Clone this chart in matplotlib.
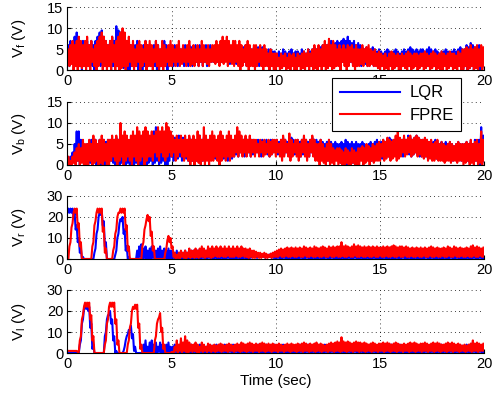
import numpy as np
import matplotlib
matplotlib.use('Agg')
import matplotlib.pyplot as plt

# time grid, 0.1 s steps; each step holds a low and a high reading of the noisy trace
t = np.linspace(0, 20, 201)

# V_f, FPRE (red)
vf_fpre_hi = [5, 6, 7, 6, 7, 8, 7, 6, 7, 8,
              6, 7, 5, 6, 7, 8, 9, 8, 7, 6,
              7, 8, 6, 7, 8, 9, 10, 9, 7, 8,
              6, 7, 5, 6, 7, 6, 5, 7, 6, 7,
              6, 5, 7, 6, 5, 7, 6, 5, 6, 7,
              6, 5, 6, 7, 5, 6, 5, 6, 7, 5,
              6, 5, 6, 5, 7, 6, 5, 6, 5, 6,
              6, 7, 6, 7, 8, 7, 8, 7, 6, 7,
              7, 6, 7, 6, 5, 6, 7, 6, 5, 6,
              6, 5, 6, 5, 6, 5, 4, 5, 4, 4,
              4, 3, 4, 3.5, 4, 3, 4, 3.5, 4, 3,
              4, 3.5, 4, 4.5, 4, 5, 4, 5, 6, 5,
              6, 5, 6, 7, 6, 7.5, 6, 7, 6, 5,
              6, 5, 6, 5, 6, 5.5, 6, 5, 6, 5,
              5, 6, 5, 5.5, 6, 5, 4.5, 5, 4, 4.5,
              4, 3.5, 4, 3, 4, 4.5, 4, 3.5, 4, 3.5,
              4, 3.5, 4, 4.5, 4, 3.5, 4, 4, 3.5, 4,
              4, 4.5, 4, 3.5, 4, 4.5, 4, 3.5, 4, 4.5,
              4, 3.5, 4, 4.5, 4, 4, 3.5, 4.5, 4, 5,
              5, 5.5, 5, 6, 5, 5.5, 6, 5, 6, 5.5,
              5]
vf_fpre_lo = [2, 1, 1.5, 0, 1, 0, 1, 0.5, 1, 0,
              1, 0, 2, 1, 0, 1, 2, 0, 1, 0,
              1, 0, 2, 0, 1, 0, 0.5, 1, 0, 1,
              2, 1, 0, 1, 2, 0, 1, 2, 0, 1,
              1, 0, 2, 1, 0, 1, 0, 1, 2, 1,
              1, 2, 1, 2, 1, 1.5, 2, 1, 2, 1,
              1.5, 1, 2, 1, 2, 1, 2, 1.5, 1, 2,
              2, 1.5, 2, 1, 2, 1.5, 2, 1, 2, 1.5,
              1, 2, 1, 0, 1, 2, 1, 0, 1, 1,
              0, 1, 2, 1, 0, 1, 1, 0, 1, 0,
              0, 1, 0, 0.5, 1, 0, 0.5, 0, 1, 0,
              0, 1, 0, 0.5, 0, 1, 0, 1, 0, 0.5,
              0, 1, 0, 1, 0, 0.5, 1, 0, 0.5, 1,
              1, 0, 2, 1, 0, 1, 2, 1, 0, 1,
              1, 1.5, 1, 2, 1, 1, 1.5, 1, 1, 0.5,
              0, 1, 0, 0.5, 0, 1, 0, 0.5, 1, 0,
              0, 1, 0.5, 0, 1, 0, 0.5, 1, 0, 0.5,
              1, 0, 0.5, 1, 0, 0.5, 1, 0, 0.5, 0,
              0, 1, 0, 0.5, 1, 0, 0.5, 0, 1, 0,
              0, 1, 0, 0.5, 1, 0, 0.5, 0, 1, 0,
              1]

# V_f, LQR (blue)
vf_lqr_hi = [6, 7, 6, 8, 9, 7, 6, 7, 6, 7,
             6, 7, 6, 7, 8, 9, 9.5, 8, 7, 6,
             7, 8, 7, 10.5, 9.5, 9, 8, 7, 7, 6,
             6, 5, 6, 7, 6, 5, 6, 7, 6, 6,
             5, 6, 7, 6, 5, 6, 7, 6, 5, 6,
             5, 6, 5, 6, 5, 5.5, 6, 5, 6, 5.5,
             5, 6, 5, 6, 5, 5.5, 6, 5, 6, 5,
             5.5, 6, 5, 6, 7, 6, 6.5, 6, 5.5, 6,
             6, 5, 6, 5, 5.5, 6, 5, 5.5, 5, 5.5,
             5, 5.5, 5, 5.5, 5, 4.5, 5, 5, 4.5, 4.5,
             4, 4.5, 4, 5, 4.5, 4, 4.5, 5, 4, 4.5,
             4.5, 4, 5, 4.5, 4, 5, 4.5, 5, 5.5, 5,
             5, 5.5, 6, 5.5, 6, 6.5, 7, 6, 6.5, 7,
             6.5, 7, 7.5, 7, 8, 7, 6.5, 7, 6, 6.5,
             6, 5.5, 5, 5.5, 5, 5, 5.5, 5, 4.5, 5,
             4.5, 4, 4.5, 5, 4.5, 4, 4.5, 5, 4.5, 4,
             4.5, 5, 4.5, 5, 5.5, 5, 4.5, 5, 4.5, 5,
             5, 4.5, 5, 5.5, 5, 4.5, 5, 4.5, 4, 4.5,
             4.5, 5, 4.5, 4, 4.5, 5, 4.5, 5, 5.5, 5,
             5, 6, 5.5, 6.5, 6, 5.5, 5, 6, 5.5, 4,
             5]
vf_lqr_lo = [2, 1, 2, 3, 1, 2, 1, 0, 1, 2,
             1, 2, 1, 0, 1, 2, 1, 2, 1, 1,
             1, 0, 1, 2, 1, 0, 1, 0.5, 1, 0,
             0, 1, 2, 1, 0, 1, 0, 1, 2, 1,
             1, 2, 1, 0, 0.5, 1, 2, 1, 0, 1,
             2, 1, 2, 1, 2, 2, 1, 2, 1, 2,
             1, 2, 2, 1, 2, 1, 2, 1, 2, 2,
             2, 2.5, 2, 1.5, 2, 2, 2.5, 2, 1.5, 2,
             2, 1.5, 2, 1, 1.5, 2, 1, 1.5, 2, 1,
             1, 1.5, 1, 2, 1, 1.5, 1, 1, 1.5, 1,
             1, 1.5, 2, 1.5, 1, 2, 1.5, 1, 1.5, 2,
             1.5, 1, 2, 1.5, 1, 1.5, 2, 1, 1.5, 1,
             1, 1.5, 1, 2, 1.5, 1, 2, 1.5, 1, 1.5,
             2, 1.5, 2, 2.5, 2, 1.5, 2, 1.5, 1, 1.5,
             1.5, 1, 2, 1.5, 1, 1.5, 2, 1, 1.5, 1,
             1, 1.5, 1, 2, 1, 1.5, 1, 2, 1, 1.5,
             1, 1.5, 1, 2, 1, 1.5, 1, 1.5, 1, 2,
             1.5, 1, 2, 1, 1.5, 2, 1, 1.5, 2, 1,
             1, 1.5, 2, 1, 1.5, 1, 2, 1, 1.5, 1,
             0.5, 1, 0, 0.5, 1, 0, 0.5, 1, 0, 0.5,
             1]

# V_b, FPRE (red)
vb_fpre_hi = [2, 1, 2, 3, 4, 5, 4, 6, 5, 5,
              6, 5, 7, 6, 5, 6, 7, 6, 5, 6,
              6, 7, 6, 7, 6, 10, 7, 8, 7, 6,
              7, 8, 7, 9, 8, 7, 8, 9, 8, 7,
              8, 7, 8, 9, 8, 9, 8, 10, 9, 8,
              7, 6, 7, 6, 7, 6, 7, 6, 7, 6,
              7, 6, 8, 7, 6, 9, 7, 6, 7, 8,
              7, 6, 7, 8, 7, 6, 7, 8, 7, 6,
              7, 9, 8, 7, 6, 7, 6, 7, 6, 6,
              6, 5, 6, 5.5, 6, 5, 6, 5.5, 6, 6,
              6, 5, 6, 7, 6, 5, 7.5, 6, 5, 6,
              6, 5, 6, 7, 6, 5, 6, 7, 6, 5,
              5, 6, 5, 4, 5, 6, 5, 4, 3.5, 4,
              4, 3.5, 3, 4, 3.5, 3, 4, 3.5, 3, 4,
              4, 4.5, 4, 5, 4.5, 4, 5, 4.5, 5, 5.5,
              5, 6, 5.5, 6.5, 6, 5.5, 6, 7, 8, 6.5,
              6, 7, 6, 6.5, 7, 6, 6.5, 7, 6.5, 6,
              6, 6.5, 6, 5.5, 6, 5, 5.5, 6, 5, 5.5,
              5, 4.5, 5, 5.5, 5, 4.5, 5, 5.5, 5, 5,
              5, 5.5, 5, 6, 5, 5.5, 6, 5, 8, 6,
              5]
vb_fpre_lo = [0.5, 0, 0, 0.5, 0, 1, 0, 0.5, 0, 0,
              0, 1, 0, 0.5, 1, 0, 0.5, 0, 1, 0,
              0, 1, 2, 1, 0, 1, 2, 0, 1, 2,
              1, 0, 2, 1, 0, 1, 2, 0, 1, 2,
              2, 1, 3, 2, 1, 3, 2, 1, 2, 3,
              2, 3, 1, 2, 3, 2, 1, 2, 1, 0,
              1, 0, 1, 0.5, 0, 1, 0, 1, 0, 1,
              1, 2, 1, 0, 1, 2, 1, 2, 1, 2,
              2, 3, 2, 3, 2, 3, 2, 3, 2, 3,
              2, 3, 2, 3, 2, 2.5, 3, 2, 2.5, 3,
              2, 3, 2, 1, 2, 3, 2, 1, 2, 3,
              2, 1, 2, 3, 2, 1, 2, 3, 2, 1,
              1, 0, 1, 0.5, 0, 1, 0, 0.5, 0, 1,
              0, 0.5, 0, 0, 0.5, 0, 0, 0.5, 0, 0,
              0, 1, 0, 0.5, 1, 0, 1, 0.5, 1, 1,
              1, 2, 1, 1.5, 2, 1, 1.5, 2, 1, 1.5,
              2, 3, 2, 2.5, 3, 2, 2.5, 3, 2, 2.5,
              2, 1.5, 2, 1, 1.5, 1, 1, 1.5, 1, 1,
              1, 0.5, 1, 1, 0.5, 1, 1, 0.5, 1, 1,
              0, 0.5, 1, 0, 0.5, 0, 1, 0, 0.5, 0,
              1]

# V_b, LQR (blue)
vb_lqr_hi = [1, 2, 3, 5, 8, 8, 6, 5, 4, 5,
             5, 6, 5.5, 6, 5, 6, 5, 6, 5.5, 6,
             6, 5, 6, 6.5, 6, 7, 6, 6.5, 6, 5.5,
             6, 7, 6, 8, 7, 6, 7, 8, 7, 6,
             7, 8, 9, 8, 7, 8, 7, 8, 7, 7,
             6, 6.5, 6, 7, 6, 6.5, 6, 6, 6.5, 6,
             6, 5.5, 6, 7, 6, 6.5, 6, 6, 6.5, 6,
             6, 5.5, 6, 6.5, 6, 5.5, 6, 6.5, 6, 5.5,
             6, 6.5, 6, 5.5, 6, 6.5, 6, 5.5, 6, 6,
             5.5, 6, 5.5, 6, 5.5, 6, 5.5, 6, 6, 5.5,
             6, 5.5, 6, 6.5, 6, 5.5, 6, 6.5, 6, 5.5,
             6, 5.5, 6, 6.5, 6, 5.5, 6, 6.5, 6, 6,
             5.5, 6, 5.5, 5, 5.5, 6, 5.5, 5, 5.5, 5,
             5, 5.5, 5, 6, 5.5, 5, 5.5, 5, 5.5, 5,
             5, 5.5, 5, 4.5, 5, 5.5, 5, 5.5, 6, 5.5,
             5.5, 6, 5.5, 6, 6.5, 6, 5.5, 6, 6.5, 6,
             6, 6.5, 6, 7, 6.5, 6, 6.5, 7, 6.5, 6,
             6, 5.5, 6, 5.5, 5, 5.5, 6, 5.5, 5, 5.5,
             5, 5.5, 5, 5.5, 5, 4.5, 5, 5.5, 5, 5,
             5, 5.5, 5, 5.5, 5, 6, 5.5, 6, 9, 7,
             5]
vb_lqr_lo = [0, 0, 0.5, 1, 2, 1, 0, 1, 0, 0.5,
             0, 0.5, 0, 1, 0, 0.5, 0, 1, 0, 0.5,
             0, 1, 0.5, 0, 1, 0, 0.5, 1, 0, 0.5,
             0, 1, 0, 0.5, 1, 0, 0, 1, 0, 0.5,
             1, 0, 0.5, 1, 0, 0.5, 1, 0, 0, 1,
             2, 1, 2, 1.5, 2, 1, 2, 1.5, 1, 2,
             1, 2, 1, 1.5, 2, 1, 1.5, 2, 1, 2,
             2, 1.5, 2, 1, 2, 1.5, 2, 1, 2, 1.5,
             2, 2.5, 2, 3, 2.5, 2, 2.5, 3, 2, 2.5,
             2.5, 3, 2.5, 2, 2.5, 3, 2.5, 2, 2.5, 3,
             3, 2.5, 3, 2, 2.5, 3, 2.5, 2, 3, 2.5,
             2.5, 3, 2, 2.5, 3, 2.5, 2, 3, 2.5, 2,
             2, 1.5, 2, 1, 1.5, 1, 1.5, 1, 1, 1.5,
             1, 0.5, 1, 0.5, 0, 0.5, 1, 0.5, 1, 0.5,
             1, 1.5, 1, 1.5, 2, 1.5, 1, 1.5, 2, 1.5,
             2, 1.5, 2, 2.5, 2, 1.5, 2, 2.5, 2, 2,
             2.5, 2, 2.5, 3, 2.5, 2, 2.5, 3, 2.5, 2,
             2, 2.5, 2, 1.5, 2, 1.5, 2, 1.5, 1.5, 2,
             1.5, 1, 1.5, 2, 1.5, 1, 1.5, 2, 1.5, 1,
             1, 1.5, 1, 0.5, 1, 0.5, 1, 0.5, 0, 0.5,
             1]

# V_r, FPRE (red)
vr_fpre_hi = [0, 8, 17, 24, 24, 17, 8, 0, 0, 0,
              0, 0, 8, 18, 24, 24, 24, 15, 5, 0,
              0, 0, 6, 14, 22, 24, 24, 24, 16, 6,
              0, 0, 0, 0, 0, 0, 8, 16, 21, 20,
              13, 6, 0, 0, 0, 0, 0, 5, 11, 10,
              6, 3, 2, 3, 4, 3, 4, 3, 5, 4,
              4, 5, 4, 5, 6, 5, 4, 6, 5, 6,
              5, 6, 5, 6, 5, 6, 5, 6, 5, 6,
              5, 6, 5, 6, 5, 5, 4.5, 5, 4, 4,
              3.5, 3, 3, 2.5, 3, 2.5, 2, 2.5, 3, 3.5,
              4, 4.5, 5, 4.5, 5, 5.5, 5, 5.5, 5, 5.5,
              5, 5.5, 5, 6, 5.5, 5, 5.5, 5, 6, 5.5,
              5, 5.5, 6, 5.5, 5, 6, 5.5, 6, 5.5, 6,
              6, 8, 6, 6.5, 6, 5.5, 6, 7, 6, 6.5,
              6, 5.5, 6, 5.5, 6, 5.5, 6, 5.5, 6, 5.5,
              5.5, 6, 5.5, 6, 5.5, 6, 6.5, 6, 5.5, 6,
              6, 5.5, 6, 5.5, 5, 5.5, 5, 5.5, 5, 5.5,
              5, 5.5, 5, 5.5, 6, 5.5, 5, 5.5, 5, 5,
              5.5, 5, 6, 5.5, 5, 6, 5.5, 5, 5.5, 5,
              5, 5.5, 5, 6, 6.5, 5.5, 6, 5.5, 5, 5.5,
              5]
vr_fpre_lo = [0, 6, 15, 22, 22, 15, 6, 0, 0, 0,
              0, 0, 6, 16, 22, 22, 22, 13, 3, 0,
              0, 0, 4, 12, 20, 22, 22, 22, 14, 4,
              0, 0, 0, 0, 0, 0, 6, 14, 19, 18,
              11, 4, 0, 0, 0, 0, 0, 3, 9, 8,
              5, 1, 0, 0.5, 0, 1, 0.5, 0, 1, 0.5,
              1, 0.5, 1, 0.5, 1, 1, 0.5, 1, 1, 0.5,
              1, 1.5, 1, 1, 1.5, 1, 1, 1.5, 1, 1,
              1, 1.5, 1, 1, 1.5, 1, 1, 0.5, 1, 0.5,
              0.5, 1, 0.5, 0.5, 1, 0.5, 0.5, 1, 0.5, 1,
              1, 1, 1.5, 1, 1, 1.5, 1, 1, 1.5, 1,
              1, 1.5, 1, 1, 1.5, 1, 1, 1.5, 1, 1,
              1.5, 1, 1, 1.5, 1, 1, 1.5, 1, 1, 1.5,
              1, 1, 1.5, 1, 1, 1.5, 1, 1, 1.5, 1,
              1, 1.5, 1, 1, 1.5, 1, 1, 1.5, 1, 1,
              1.5, 1, 1, 1.5, 1, 1, 1.5, 1, 1, 1.5,
              1, 1, 1.5, 1, 1, 1.5, 1, 1, 1.5, 1,
              1, 1.5, 1, 1, 1.5, 1, 1, 1.5, 1, 1,
              1.5, 1, 1, 1.5, 1, 1, 1.5, 1, 1, 1.5,
              1, 1, 1.5, 1, 1, 1.5, 1, 1, 1.5, 1,
              1]

# V_r, LQR (blue)
vr_lqr_hi = [24, 24, 24, 22, 16, 10, 5, 1, 0, 0,
             0, 0, 0, 5, 14, 22, 23, 18, 8, 0,
             0, 0, 0, 4, 12, 19, 20, 14, 6, 1,
             0, 0, 0, 4, 6, 7, 5, 6, 4, 5,
             6, 5, 4, 5, 6, 4, 5, 4, 5, 4,
             4, 3, 4, 3, 3.5, 3, 4, 3, 3.5, 4,
             4, 3.5, 4, 4.5, 4, 3.5, 4, 4.5, 4, 3.5,
             4, 3.5, 4, 4.5, 4, 3.5, 4, 4.5, 4, 3.5,
             4, 4.5, 4, 3.5, 4, 4.5, 4, 3.5, 3, 3,
             2.5, 2, 2.5, 2, 2, 1.5, 2, 2.5, 2, 3,
             3.5, 4, 3.5, 4, 4.5, 4, 3.5, 4, 4.5, 4,
             4, 3.5, 4, 4.5, 4, 3.5, 4, 4.5, 4, 3.5,
             4, 4.5, 4, 3.5, 4, 4.5, 4, 3.5, 4, 4.5,
             4, 3.5, 4, 4.5, 4, 3.5, 4, 4.5, 4, 3.5,
             4, 4.5, 4, 3.5, 4, 4.5, 4, 3.5, 4, 4.5,
             4, 3.5, 4, 4.5, 4, 3.5, 4, 4.5, 4, 3.5,
             4, 4.5, 4, 3.5, 4, 4.5, 4, 3.5, 4, 4.5,
             4, 3.5, 4, 4.5, 4, 3.5, 4, 4.5, 4, 3.5,
             4, 4.5, 4, 3.5, 4, 4.5, 4, 3.5, 4, 4.5,
             4, 3.5, 4, 4.5, 4, 3.5, 4, 4.5, 4, 3.5,
             4]
vr_lqr_lo = [22, 22, 22, 20, 14, 8, 3, 0, 0, 0,
             0, 0, 0, 3, 12, 20, 21, 16, 6, 0,
             0, 0, 0, 2, 10, 17, 18, 12, 4, 0,
             0, 0, 0, 0, 0, 1, 0, 0.5, 0, 0,
             0, 0.5, 0, 0, 0.5, 0, 0, 0.5, 0, 0,
             0, 0.5, 0, 0, 0.5, 0, 0, 0.5, 0, 0,
             0, 0, 0.5, 0, 0, 0.5, 0, 0, 0.5, 0,
             0, 0.5, 0, 0, 0.5, 0, 0, 0.5, 0, 0,
             0, 0, 0.5, 0, 0, 0.5, 0, 0, 0.5, 1,
             1, 0.5, 1, 1.5, 1, 0.5, 1, 1, 0.5, 0.5,
             0, 0.5, 0, 0, 0.5, 0, 0, 0.5, 0, 0,
             0, 0, 0.5, 0, 0, 0.5, 0, 0, 0.5, 0,
             0, 0.5, 0, 0, 0.5, 0, 0, 0.5, 0, 0,
             0, 0, 0.5, 0, 0, 0.5, 0, 0, 0.5, 0,
             0, 0.5, 0, 0, 0.5, 0, 0, 0.5, 0, 0,
             0, 0, 0.5, 0, 0, 0.5, 0, 0, 0.5, 0,
             0, 0.5, 0, 0, 0.5, 0, 0, 0.5, 0, 0,
             0, 0, 0.5, 0, 0, 0.5, 0, 0, 0.5, 0,
             0, 0.5, 0, 0, 0.5, 0, 0, 0.5, 0, 0,
             0, 0, 0.5, 0, 0, 0.5, 0, 0, 0.5, 0,
             0]

# V_l, FPRE (red)
vl_fpre_hi = [1, 1, 1, 1, 1, 0.5, 8, 18, 24, 24,
              24, 18, 8, 0, 0, 0, 0, 0, 6, 16,
              24, 24, 24, 16, 6, 0, 0, 0, 0, 6,
              14, 22, 23, 23, 14, 4, 0, 0, 0, 0,
              0, 0, 8, 16, 19, 12, 4, 0, 0, 0,
              0.5, 3, 6, 4, 7, 5, 8, 6, 5, 4,
              4, 5, 4, 3, 5, 4, 3, 4.5, 4, 3.5,
              4, 3.5, 4, 4.5, 4, 3.5, 4, 4.5, 4, 3.5,
              4, 4.5, 4, 5, 4.5, 4, 4.5, 5, 4.5, 4,
              4.5, 4, 4.5, 5, 4.5, 4, 4.5, 4, 4.5, 4,
              4, 4.5, 4, 3.5, 4, 4.5, 4, 4.5, 4, 4,
              4.5, 4, 4.5, 5, 4.5, 4, 4.5, 4, 4.5, 5,
              4, 4.5, 4, 3.5, 4, 4.5, 5, 4.5, 5, 5.5,
              5, 7.5, 5.5, 5, 5.5, 5, 4.5, 5, 5.5, 5,
              5, 4.5, 5, 4.5, 4, 4.5, 5, 4.5, 4, 4.5,
              4.5, 5, 4.5, 5, 4.5, 4, 4.5, 5, 4.5, 4,
              4, 4.5, 4, 4.5, 5, 4.5, 5, 4.5, 4, 4.5,
              4.5, 5, 4.5, 4, 4.5, 5, 4.5, 5, 4.5, 4,
              4, 4.5, 5, 4.5, 5, 4.5, 4, 4.5, 4, 3.5,
              4, 3.5, 4, 4.5, 6, 4.5, 5, 4.5, 4, 4.5,
              4]
vl_fpre_lo = [1, 1, 1, 1, 1, 0.5, 6, 16, 22, 22,
              22, 16, 6, 0, 0, 0, 0, 0, 4, 14,
              22, 22, 22, 14, 4, 0, 0, 0, 0, 4,
              12, 20, 21, 21, 12, 2, 0, 0, 0, 0,
              0, 0, 6, 14, 17, 10, 2, 0, 0, 0,
              0.5, 0, 1, 0, 1, 0, 1, 0.5, 0, 1,
              0.5, 1, 0.5, 0, 1, 0.5, 1, 0.5, 1, 0.5,
              1, 0.5, 1, 1, 0.5, 1, 1, 0.5, 1, 1,
              0.5, 1, 1, 0.5, 1, 1, 0.5, 1, 1, 0.5,
              1, 1, 0.5, 1, 1, 0.5, 1, 1, 0.5, 1,
              1, 0.5, 1, 1, 0.5, 1, 1, 0.5, 1, 1,
              0.5, 1, 1, 0.5, 1, 1, 0.5, 1, 1, 0.5,
              1, 1, 0.5, 1, 1, 0.5, 1, 1, 0.5, 1,
              1, 0.5, 1, 1, 0.5, 1, 1, 0.5, 1, 1,
              0.5, 1, 1, 0.5, 1, 1, 0.5, 1, 1, 0.5,
              1, 1, 0.5, 1, 1, 0.5, 1, 1, 0.5, 1,
              1, 0.5, 1, 1, 0.5, 1, 1, 0.5, 1, 1,
              0.5, 1, 1, 0.5, 1, 1, 0.5, 1, 1, 0.5,
              1, 1, 0.5, 1, 1, 0.5, 1, 1, 0.5, 1,
              1, 0.5, 1, 1, 0.5, 1, 1, 0.5, 1, 1,
              1]

# V_l, LQR (blue)
vl_lqr_hi = [0, 0, 0, 0, 0, 0, 6, 16, 23, 23,
             22, 14, 4, 0, 0, 0, 0, 0, 10, 18,
             20, 16, 8, 1, 0, 0, 0, 3, 8, 11,
             13, 9, 3, 0, 0, 0, 4, 6, 3, 5,
             6, 4, 5, 3, 5, 4, 3, 4, 5, 3,
             3, 4, 3, 3.5, 3, 4, 3, 3.5, 3, 4,
             3, 3.5, 3, 4, 3, 3.5, 3, 4, 3, 3.5,
             3, 4, 3, 3.5, 3, 4, 3, 3.5, 3, 4,
             3, 3.5, 3, 4, 3, 3.5, 3, 4, 3, 3.5,
             3, 4, 3, 3.5, 3, 4, 3, 3.5, 3, 4,
             3, 3.5, 3, 4, 3, 3.5, 3, 4, 3, 3.5,
             3, 4, 3, 3.5, 3, 4, 3, 3.5, 3, 4,
             3, 3.5, 3, 4, 3, 3.5, 3, 4, 3, 3.5,
             3, 4, 3, 3.5, 3, 4, 3, 3.5, 3, 4,
             3, 3.5, 3, 4, 3, 3.5, 3, 4, 3, 3.5,
             3, 4, 3, 3.5, 3, 4, 3, 3.5, 3, 4,
             3, 3.5, 3, 4, 3, 3.5, 3, 4, 3, 3.5,
             3, 4, 3, 3.5, 3, 4, 3, 3.5, 3, 4,
             3, 3.5, 3, 4, 3, 3.5, 3, 4, 3, 3.5,
             3, 4, 3, 3.5, 5, 4, 3, 3.5, 3, 4,
             3]
vl_lqr_lo = [0, 0, 0, 0, 0, 0, 4, 14, 21, 21,
             20, 12, 2, 0, 0, 0, 0, 0, 8, 16,
             18, 14, 6, 0, 0, 0, 0, 1, 6, 9,
             11, 7, 1, 0, 0, 0, 0, 0, 0, 0,
             0, 0.5, 0, 0, 0.5, 0, 0, 0.5, 0, 0,
             0, 0, 0.5, 0, 0, 0.5, 0, 0, 0.5, 0,
             0, 0.5, 0, 0, 0.5, 0, 0, 0.5, 0, 0,
             0, 0, 0.5, 0, 0, 0.5, 0, 0, 0.5, 0,
             0, 0.5, 0, 0, 0.5, 0, 0, 0.5, 0, 0,
             0, 0, 0.5, 0, 0, 0.5, 0, 0, 0.5, 0,
             0, 0.5, 0, 0, 0.5, 0, 0, 0.5, 0, 0,
             0, 0, 0.5, 0, 0, 0.5, 0, 0, 0.5, 0,
             0, 0.5, 0, 0, 0.5, 0, 0, 0.5, 0, 0,
             0, 0, 0.5, 0, 0, 0.5, 0, 0, 0.5, 0,
             0, 0.5, 0, 0, 0.5, 0, 0, 0.5, 0, 0,
             0, 0, 0.5, 0, 0, 0.5, 0, 0, 0.5, 0,
             0, 0.5, 0, 0, 0.5, 0, 0, 0.5, 0, 0,
             0, 0, 0.5, 0, 0, 0.5, 0, 0, 0.5, 0,
             0, 0.5, 0, 0, 0.5, 0, 0, 0.5, 0, 0,
             0, 0, 0.5, 0, 0, 0.5, 0, 0, 0.5, 0,
             0]

ylabels = ['V$_\\mathrm{f}$ (V)', 'V$_\\mathrm{b}$ (V)',
           'V$_\\mathrm{r}$ (V)', 'V$_\\mathrm{l}$ (V)']
ylims = [15, 15, 30, 30]
yticks = [[0, 5, 10, 15], [0, 5, 10, 15], [0, 10, 20, 30], [0, 10, 20, 30]]
xticks = [0, 5, 10, 15, 20]


def zigzag(lo, hi):
    # low reading at t, high reading half a step later
    x = np.column_stack([t, t + 0.05]).ravel()
    y = np.column_stack([lo, hi]).ravel()
    return x, y


def main():
    plt.rcParams['font.family'] = 'Liberation Sans'
    plt.rcParams['mathtext.fontset'] = 'custom'
    plt.rcParams['mathtext.rm'] = 'Liberation Sans'
    plt.rcParams['mathtext.it'] = 'Liberation Sans:italic'

    fig = plt.figure(figsize=(4.95, 4.04), dpi=100)
    bottoms = [0.826, 0.5916, 0.3589, 0.1262]
    series = [(vf_lqr_lo, vf_lqr_hi, vf_fpre_lo, vf_fpre_hi),
              (vb_lqr_lo, vb_lqr_hi, vb_fpre_lo, vb_fpre_hi),
              (vr_lqr_lo, vr_lqr_hi, vr_fpre_lo, vr_fpre_hi),
              (vl_lqr_lo, vl_lqr_hi, vl_fpre_lo, vl_fpre_hi)]

    for i in range(4):
        ax = fig.add_axes([0.136, bottoms[i], 0.8424, 0.156])
        blo, bhi, rlo, rhi = series[i]
        h1, = ax.plot(*zigzag(blo, bhi), color='#0000ff', lw=1.5)
        h2, = ax.plot(*zigzag(rlo, rhi), color='#ff0000', lw=1.5)
        ax.set_xlim(0, 20)
        ax.set_ylim(0, ylims[i])
        ax.set_xticks(xticks)
        ax.set_yticks(yticks[i])
        ax.tick_params(direction='in', length=3, labelsize=10.5, pad=3)
        ax.grid(True, linestyle=(0, (1, 4)), color='black', lw=0.6)
        for s in ['top', 'right']:
            ax.spines[s].set_visible(False)
        ax.set_ylabel(ylabels[i], fontsize=11)
        ax.yaxis.set_label_coords(-0.095, 0.5)
        if i == 3:
            ax.set_xlabel('Time (sec)', fontsize=11, labelpad=2)

    leg = fig.legend([h1, h2], ['LQR', 'FPRE'], loc='upper left',
                     bbox_to_anchor=(332 / 495, 1 - 78 / 404),
                     borderaxespad=0, fontsize=12, fancybox=False,
                     framealpha=1, edgecolor='black', handlelength=3.6,
                     borderpad=0.45, labelspacing=0.45, handletextpad=0.6)
    leg.get_frame().set_linewidth(0.8)

    fig.savefig('out.png', dpi=100)


if __name__ == "__main__":
    main()
